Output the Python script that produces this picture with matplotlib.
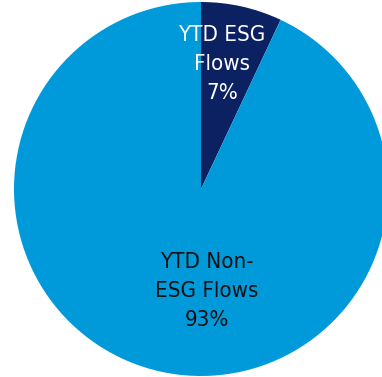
import matplotlib.pyplot as plt

labels = ["YTD ESG\nFlows\n7%", "YTD Non-\nESG Flows\n93%"]
shares = [7, 93]
colors = ["#0C2161", "#009ADB"]
text_colors = ["white", "#111111"]
label_pos = [(0.112, 0.668), (0.03, -0.545)]

plt.rcParams['font.family'] = ['DejaVu Sans']

fig = plt.figure(figsize=(3.82, 3.77), dpi=100)
ax = fig.add_axes([0, 0, 1, 1])
ax.pie(shares, colors=colors, startangle=90, counterclock=False, radius=1,
       wedgeprops=dict(linewidth=0))
for lab, tc, (x, y) in zip(labels, text_colors, label_pos):
    ax.text(x, y, lab, color=tc, fontsize=16, ha='center', va='center',
            linespacing=1.55, fontstretch='condensed')
r_px = 187
ax.set_xlim(-201 / r_px, (382 - 201) / r_px)
ax.set_ylim(-(377 - 189) / r_px, 189 / r_px)
ax.set_aspect('auto')
ax.axis('off')
fig.savefig("out.png", dpi=100)
